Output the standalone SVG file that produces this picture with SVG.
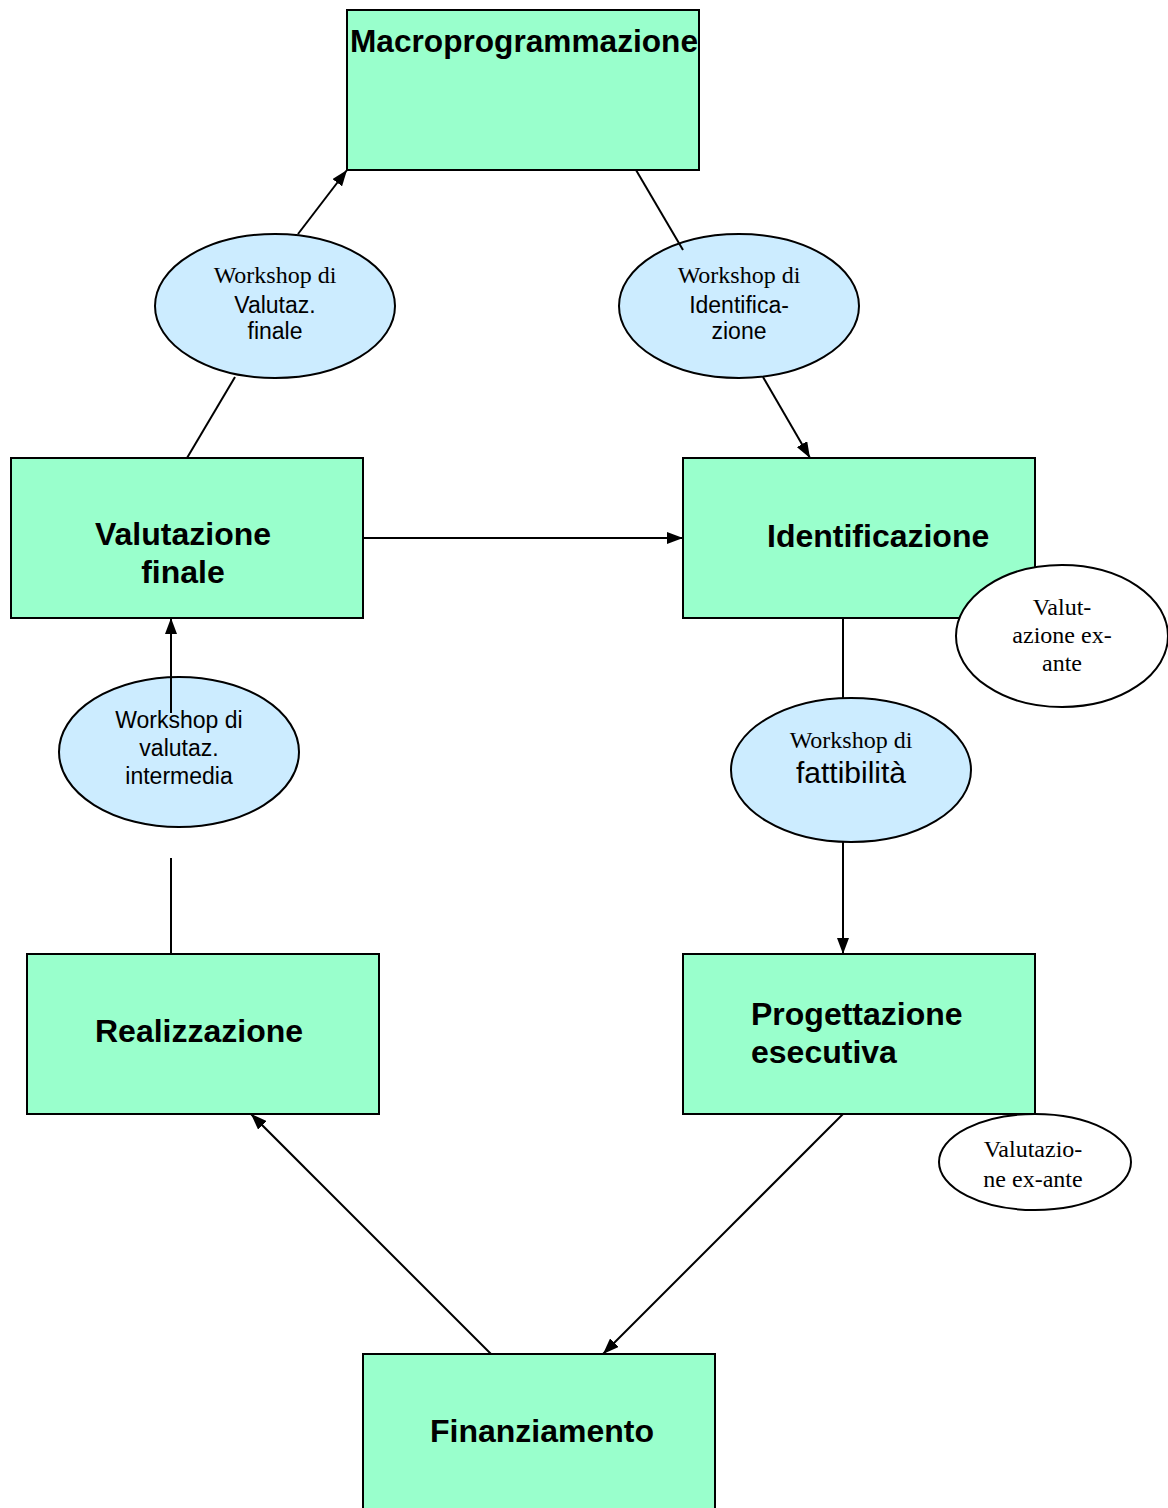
<svg xmlns="http://www.w3.org/2000/svg" width="1168" height="1508" viewBox="0 0 1168 1508">
<style>
.box{fill:#99FFCC;stroke:#000;stroke-width:2}
.ell{fill:#CCECFF;stroke:#000;stroke-width:2}
.ellw{fill:#FFFFFF;stroke:#000;stroke-width:2}
.t{font-family:"Liberation Sans",Arial,sans-serif;font-weight:bold;font-size:32px;fill:#000}
.s{font-family:"Liberation Sans",Arial,sans-serif;font-size:23px;fill:#000;text-anchor:middle}
.r{font-family:"Liberation Serif","Times New Roman",serif;font-size:24px;fill:#000;text-anchor:middle}
.c{stroke:#000;stroke-width:2;fill:none}
</style>
<defs>
<marker id="ah" viewBox="0 0 10 10" refX="10" refY="5" markerWidth="16" markerHeight="12" preserveAspectRatio="none" markerUnits="userSpaceOnUse" orient="auto">
<path d="M0,0 L10,5 L0,10 z" fill="#000"/>
</marker>
</defs>
<rect width="1168" height="1508" fill="#fff"/>
<g id="macroprogrammazione">
<rect class="box" x="347" y="10" width="352" height="160"/>
<text class="t" x="350" y="52" textLength="348" lengthAdjust="spacingAndGlyphs">Macroprogrammazione</text>
</g>
<g id="valutazione-finale">
<rect class="box" x="11" y="458" width="352" height="160"/>
<text class="t" x="183" y="545" text-anchor="middle">Valutazione</text>
<text class="t" x="183" y="583" text-anchor="middle">finale</text>
</g>
<g id="identificazione">
<rect class="box" x="683" y="458" width="352" height="160"/>
<text class="t" x="767" y="547">Identificazione</text>
</g>
<g id="progettazione-esecutiva">
<rect class="box" x="683" y="954" width="352" height="160"/>
<text class="t" x="751" y="1025">Progettazione</text>
<text class="t" x="751" y="1063">esecutiva</text>
</g>
<g id="realizzazione">
<rect class="box" x="27" y="954" width="352" height="160"/>
<text class="t" x="95" y="1042">Realizzazione</text>
</g>
<g id="finanziamento">
<rect class="box" x="363" y="1354" width="352" height="170"/>
<text class="t" x="542" y="1442" text-anchor="middle">Finanziamento</text>
</g>
<g id="ws-valutaz-finale">
<ellipse class="ell" cx="275" cy="306" rx="120" ry="72"/>
<text class="r" x="275" y="283">Workshop di</text>
<text class="s" x="275" y="313">Valutaz.</text>
<text class="s" x="275" y="339">finale</text>
</g>
<g id="ws-identificazione">
<ellipse class="ell" cx="739" cy="306" rx="120" ry="72"/>
<text class="r" x="739" y="283">Workshop di</text>
<text class="s" x="739" y="313">Identifica-</text>
<text class="s" x="739" y="339">zione</text>
</g>
<g id="valutazione-ex-ante-1">
<ellipse class="ellw" cx="1062" cy="636" rx="106" ry="71"/>
<text class="r" x="1062" y="615">Valut-</text>
<text class="r" x="1062" y="643">azione ex-</text>
<text class="r" x="1062" y="671">ante</text>
</g>
<g id="ws-valutaz-intermedia">
<ellipse class="ell" cx="179" cy="752" rx="120" ry="75"/>
<text class="s" x="179" y="728">Workshop di</text>
<text class="s" x="179" y="756">valutaz.</text>
<text class="s" x="179" y="784">intermedia</text>
</g>
<g id="ws-fattibilita">
<ellipse class="ell" cx="851" cy="770" rx="120" ry="72"/>
<text class="r" x="851" y="748">Workshop di</text>
<text class="s" x="851" y="783" style="font-size:30px">fattibilità</text>
</g>
<g id="valutazione-ex-ante-2">
<ellipse class="ellw" cx="1035" cy="1162" rx="96" ry="48"/>
<text class="r" x="1033" y="1157">Valutazio-</text>
<text class="r" x="1033" y="1187">ne ex-ante</text>
</g>
<g id="connectors">
<line class="c" x1="187" y1="458" x2="235" y2="377"/>
<line class="c" x1="298" y1="234" x2="347" y2="170" marker-end="url(#ah)"/>
<line class="c" x1="636" y1="170" x2="683" y2="250"/>
<line class="c" x1="763" y1="377" x2="810" y2="458" marker-end="url(#ah)"/>
<line class="c" x1="363" y1="538" x2="683" y2="538" marker-end="url(#ah)"/>
<line class="c" x1="843" y1="618" x2="843" y2="698"/>
<line class="c" x1="843" y1="842" x2="843" y2="954" marker-end="url(#ah)"/>
<line class="c" x1="843" y1="1114" x2="603" y2="1354" marker-end="url(#ah)"/>
<line class="c" x1="491" y1="1354" x2="251" y2="1114" marker-end="url(#ah)"/>
<line class="c" x1="171" y1="954" x2="171" y2="858"/>
<line class="c" x1="171" y1="713" x2="171" y2="618" marker-end="url(#ah)"/>
</g>
</svg>
